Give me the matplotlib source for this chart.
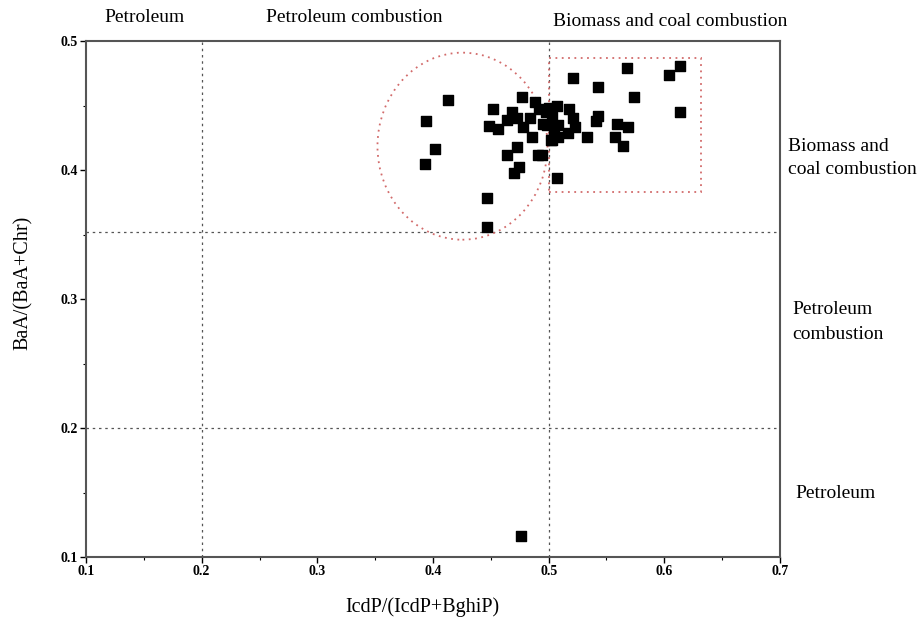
import matplotlib
matplotlib.use('Agg')
import matplotlib.pyplot as plt
from matplotlib.patches import Ellipse, Rectangle

# ratios
icdp_ratio = [0.413, 0.394, 0.402, 0.393, 0.447, 0.447, 0.477, 0.452, 0.468, 0.488,
              0.448, 0.456, 0.464, 0.473, 0.478, 0.484, 0.486, 0.492, 0.495, 0.473,
              0.464, 0.491, 0.470, 0.474, 0.507, 0.500, 0.503, 0.505, 0.502, 0.499,
              0.568, 0.614, 0.604, 0.521, 0.543, 0.574, 0.614, 0.507, 0.518, 0.521,
              0.523, 0.508, 0.517, 0.508, 0.503, 0.498, 0.533, 0.543, 0.541, 0.559,
              0.569, 0.557, 0.564, 0.494, 0.476]
baa_ratio = [0.454, 0.438, 0.416, 0.405, 0.378, 0.356, 0.457, 0.447, 0.445, 0.453,
             0.434, 0.432, 0.439, 0.440, 0.433, 0.440, 0.426, 0.447, 0.436, 0.418,
             0.412, 0.412, 0.398, 0.402, 0.394, 0.448, 0.441, 0.430, 0.423, 0.435,
             0.479, 0.481, 0.474, 0.471, 0.464, 0.457, 0.445, 0.450, 0.447, 0.440,
             0.433, 0.435, 0.429, 0.426, 0.423, 0.445, 0.426, 0.442, 0.438, 0.436,
             0.433, 0.426, 0.419, 0.412, 0.116]

x_lines = [0.2, 0.5]
y_lines = [0.352, 0.2]

plt.rcParams['font.family'] = ['Liberation Serif', 'DejaVu Serif']

fig = plt.figure(figsize=(9.19, 6.22), dpi=100)
ax = fig.add_axes([0.0936, 0.1045, 0.7551, 0.8295])

for xv in x_lines:
    ax.axvline(xv, color='#555555', lw=0.9, ls=(0, (2, 3)), zorder=1)
for yv in y_lines:
    ax.axhline(yv, color='#555555', lw=0.9, ls=(0, (2, 3)), zorder=1)

# circled / boxed groups
ax.add_patch(Ellipse((0.4255, 0.4185), 0.147, 0.145, fill=False,
                     ec='#d26b6b', lw=1.3, ls=(0, (1, 2.5)), zorder=2))
ax.add_patch(Rectangle((0.5, 0.383), 0.132, 0.104, fill=False,
                       ec='#d26b6b', lw=1.3, ls=(0, (1, 2.5)), zorder=2))

ax.scatter(icdp_ratio, baa_ratio, marker='s', s=55, color='black', zorder=3)

ax.set_xlim(0.1, 0.7)
ax.set_ylim(0.1, 0.5)
ax.set_xticks([0.1, 0.2, 0.3, 0.4, 0.5, 0.6, 0.7])
ax.set_yticks([0.1, 0.2, 0.3, 0.4, 0.5])
ax.set_xticks([0.15, 0.25, 0.35, 0.45, 0.55, 0.65], minor=True)
ax.set_yticks([0.15, 0.25, 0.35, 0.45], minor=True)
ax.set_xticklabels(['0.1', '0.2', '0.3', '0.4', '0.5', '0.6', '0.7'], fontweight='bold')
ax.set_yticklabels(['0.1', '0.2', '0.3', '0.4', '0.5'], fontweight='bold')
ax.tick_params(which='major', direction='out', length=4, width=1, labelsize=10, pad=2)
ax.tick_params(which='minor', direction='out', length=2.5, width=0.8)
for s in ax.spines.values():
    s.set_color('#555555')
    s.set_linewidth(1.5)

ax.set_xlabel('IcdP/(IcdP+BghiP)', fontsize=14.5)
ax.set_ylabel('BaA/(BaA+Chr)', fontsize=14.5)
ax.xaxis.set_label_coords(0.484, -0.079)
ax.yaxis.set_label_coords(-0.077, 0.531)

# source labels above and to the right of the plot
fig.text(104 / 919, 1 - 17 / 622, 'Petroleum', ha='left', va='center', fontsize=14)
fig.text(266 / 919, 1 - 17 / 622, 'Petroleum combustion', ha='left', va='center', fontsize=14)
fig.text(553 / 919, 1 - 21 / 622, 'Biomass and coal combustion', ha='left', va='center', fontsize=14)
fig.text(788 / 919, 1 - 158 / 622, 'Biomass and\ncoal combustion', ha='left', va='center',
         fontsize=14, linespacing=1.45)
fig.text(792 / 919, 1 - 322 / 622, 'Petroleum\ncombustion', ha='left', va='center',
         fontsize=14, linespacing=1.6)
fig.text(795 / 919, 1 - 494 / 622, 'Petroleum', ha='left', va='center', fontsize=14)

fig.savefig('out.png', dpi=100)
